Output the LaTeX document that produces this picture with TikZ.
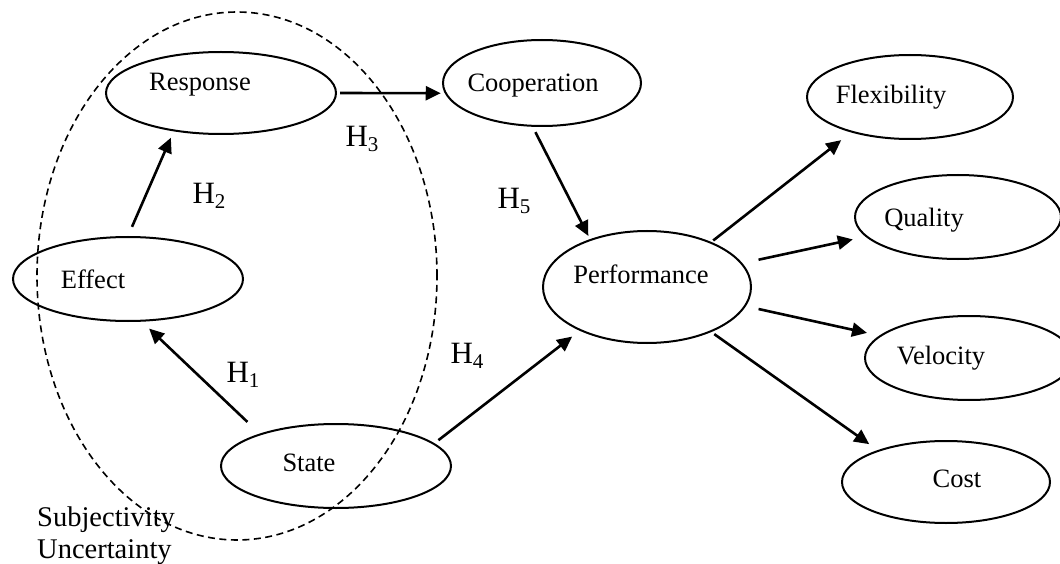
\documentclass[tikz,border=0pt]{standalone}
\usepackage{fontspec}
\setmainfont{Liberation Serif}
\usetikzlibrary{arrows.meta,shapes.geometric}
\newcommand{\hsub}[1]{H\raisebox{-5pt}{\fontsize{21}{21}\selectfont #1}}
\begin{document}
\begin{tikzpicture}[x=1pt,y=-1pt,
  ell/.style={draw, ellipse, line width=2pt, inner sep=0pt},
  grpline/.style={draw, ellipse, line width=1.6pt, dash pattern=on 7pt off 4.5pt, inner sep=0pt},
  lbl/.style={inner sep=0pt, anchor=base, font=\fontsize{26.5}{30}\selectfont},
  hyp/.style={inner sep=0pt, anchor=base, font=\fontsize{31}{34}\selectfont},
  arr/.style={line width=2.6pt, -{Triangle[length=15pt,width=14pt]}},
  note/.style={inner sep=0pt, anchor=base west, font=\fontsize{28.5}{32}\selectfont}]
\clip (0,0) rectangle (1060,564);
\useasboundingbox (0,0) rectangle (1060,564);
\fill[white] (0,0) rectangle (1060,564);

% group
\node[grpline, minimum width=400pt, minimum height=528pt] (grp) at (237,276) {};

% ellipses
\node[ell, minimum width=230pt, minimum height=82pt] (resp) at (221,93) {};
\node[ell, minimum width=230pt, minimum height=84pt] (eff) at (128,279) {};
\node[ell, minimum width=230pt, minimum height=84pt] (state) at (336,466) {};
\node[ell, minimum width=198pt, minimum height=86pt] (coop) at (542,83) {};
\node[ell, minimum width=208pt, minimum height=112pt] (perf) at (647,287) {};
\node[ell, minimum width=206pt, minimum height=84pt] (flex) at (910,97) {};
\node[ell, minimum width=206pt, minimum height=84pt] (qual) at (958,217) {};
\node[ell, minimum width=208pt, minimum height=84pt] (velo) at (969,358) {};
\node[ell, minimum width=208pt, minimum height=82pt] (cost) at (946,482) {};

% texts
\node[lbl] (tresp) at (200,90.8) {Response};
\node[lbl] (teff) at (93,288.8) {Effect};
\node[lbl] (tstate) at (309,471.8) {State};
\node[lbl] (tcoop) at (533,91.8) {Cooperation};
\node[lbl] (tperf) at (641,283.8) {Performance};
\node[lbl] (tflex) at (891,103.8) {Flexibility};
\node[lbl] (tqual) at (924,226) {Quality};
\node[lbl] (tvelo) at (941,364.5) {Velocity};
\node[lbl] (tcost) at (957,487) {Cost};

% hypotheses
\node[hyp] (h1) at (243,382) {\hsub{1}};
\node[hyp] (h2) at (209,204) {\hsub{2}};
\node[hyp] (h3) at (362,147) {\hsub{3}};
\node[hyp] (h4) at (467,363) {\hsub{4}};
\node[hyp] (h5) at (514,209) {\hsub{5}};

% notes
\node[note] (subj) at (37,526) {Subjectivity};
\node[note] (unc) at (37,558) {Uncertainty};

% arrows
\draw[arr, shorten <=10pt, shorten >=7pt] (eff.90) -- (resp.-141);
\draw[arr, shorten <=3pt, shorten >=4pt] (resp.0) -- (coop.186.2);
\draw[arr, shorten <=6pt, shorten >=3.6pt] (coop.-102.7) -- (perf.140.8);
\draw[arr, shorten <=17pt, shorten >=10pt] (state.157.25) -- (eff.-72.6);
\draw[arr, shorten <=5pt, shorten >=9.5pt] (state.13.4) -- (perf.-147.4);
\draw[arr, shorten <=2.4pt, shorten >=12.5pt] (perf.35.3) -- (flex.-149.3);
\draw[arr, shorten <=16.5pt, shorten >=13pt] (perf.14.3) -- (qual.-168.1);
\draw[arr, shorten <=13pt, shorten >=12.6pt] (perf.-11.3) -- (velo.166.1);
\draw[arr, shorten <=3.6pt, shorten >=10.3pt] (perf.-35.9) -- (cost.155.8);
\end{tikzpicture}
\end{document}
